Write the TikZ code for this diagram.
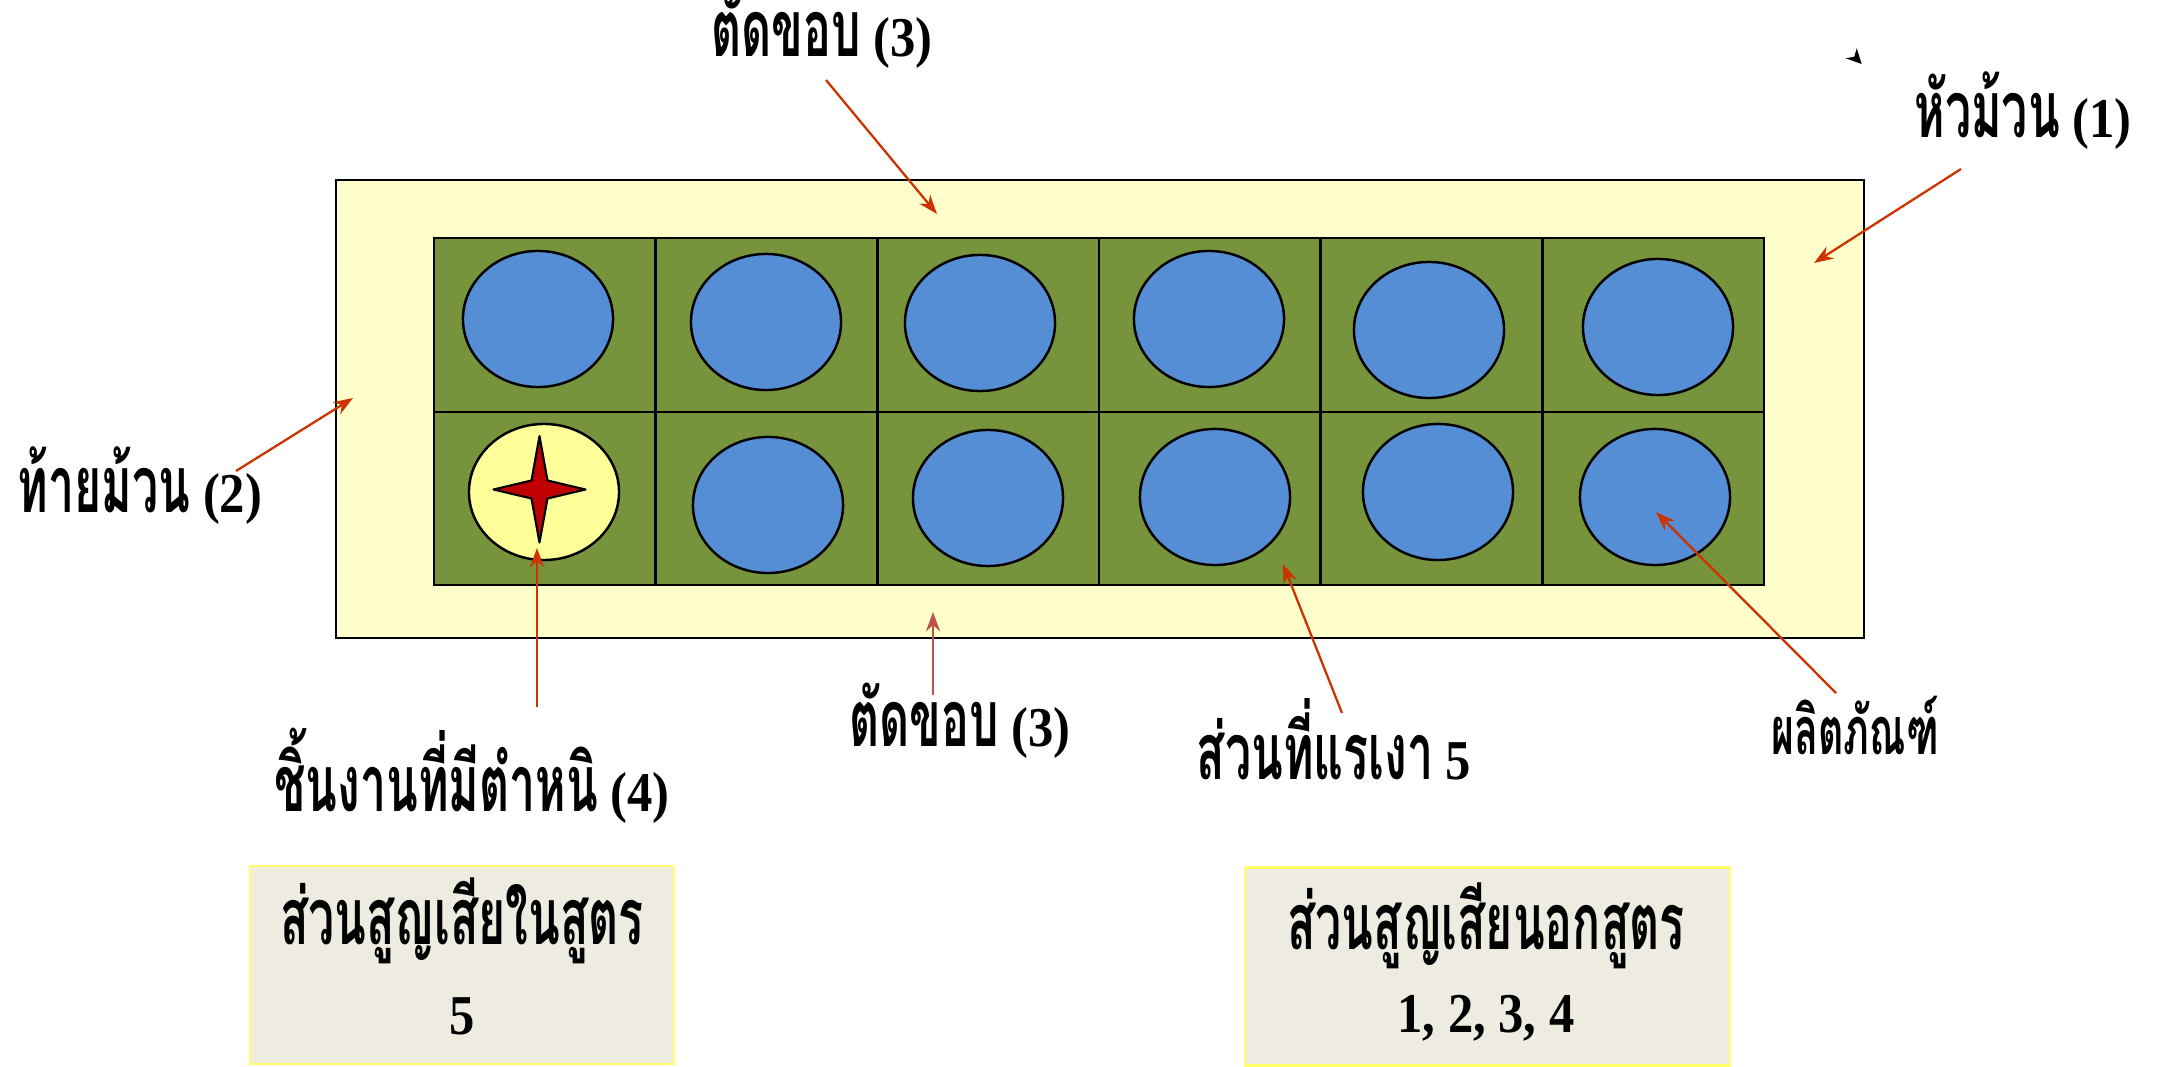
\documentclass[tikz,border=0pt]{standalone}
\usepackage{fontspec}
\setmainfont{Liberation Serif}[FakeStretch=0.9]
\newfontfamily\thai[Script=Thai,Scale=1.4,FakeStretch=0.59]{Loma}
\usetikzlibrary{arrows.meta,shapes.geometric}
\definecolor{rollyellow}{HTML}{FFFFCC}
\definecolor{gridgreen}{HTML}{77933C}
\definecolor{blueoval}{HTML}{558ED5}
\definecolor{defectyellow}{HTML}{FFFF99}
\definecolor{starred}{HTML}{C00000}
\definecolor{arrowred}{HTML}{CC3300}
\definecolor{arrowmuted}{HTML}{C0504D}
\definecolor{boxfill}{HTML}{EEECE1}
\definecolor{boxline}{HTML}{FFFF66}
\begin{document}
\begin{tikzpicture}[x=0.01cm,y=-0.01cm,
  lbl/.style={font=\fontsize{16}{19}\selectfont\bfseries, anchor=base, inner sep=0pt},
  smalllbl/.style={font=\fontsize{13.5}{16}\selectfont\bfseries, anchor=base, inner sep=0pt},
  oval/.style={ellipse, draw=black, line width=0.7pt, fill=blueoval,
    minimum width=1.5cm, minimum height=1.36cm, inner sep=0pt},
  defectoval/.style={oval, fill=defectyellow},
  callout/.style={draw=arrowred, line width=0.65pt, -{Stealth[length=5.5pt,width=4pt]}},
  mutedcallout/.style={callout, draw=arrowmuted},
  lossbox/.style={rectangle, draw=boxline, line width=0.7pt, fill=boxfill, inner sep=0pt,
    minimum height=1.98cm},
  frame/.style={draw=black, line width=0.75pt}]
\useasboundingbox (0,0) rectangle (2159,1067);

% roll and grid
\filldraw[frame, fill=rollyellow] (336,180) rectangle (1864,638);
\filldraw[frame, fill=gridgreen] (434,238) rectangle (1764,585);
\draw[frame] (434,412) -- (1764,412);
\foreach \cx in {655.7,877.3,1099,1320.7,1542.3}
  \draw[frame] (\cx,238) -- (\cx,585);

% products
\node[oval] (e11) at (538,319) {};
\node[oval] (e12) at (766,322) {};
\node[oval] (e13) at (980,323) {};
\node[oval] (e14) at (1209,319) {};
\node[oval] (e15) at (1429,330) {};
\node[oval] (e16) at (1658,327) {};
\node[defectoval] (e21) at (544,492) {};
\node[oval] (e22) at (768,505) {};
\node[oval] (e23) at (988,498) {};
\node[oval] (e24) at (1215,497) {};
\node[oval] (e25) at (1438,492) {};
\node[oval] (e26) at (1655,497) {};

% defect star
\filldraw[fill=starred, draw=black, line width=0.6pt, line join=round]
  (539.5,436) -- (547.5,480.5) -- (585.5,489.5) -- (547.5,498.5) -- (539.5,542.5)
  -- (531.5,498.5) -- (493.5,489.5) -- (531.5,480.5) -- cycle;

% stray arrowhead mark
\fill[black] (1861.7,64) -- (1845.7,58.3) -- (1854.3,56.7) -- (1856.7,48.3) -- cycle;

% labels
\node[lbl] (topcut) at (822,57) {{\thai ตัดขอบ} (3)};
\node[lbl] (head) at (2023,138) {{\thai หัวม้วน} (1)};
\node[lbl] (tail) at (140,513) {{\thai ท้ายม้วน} (2)};
\node[lbl] (defect) at (472,812) {{\thai ชิ้นงานที่มีตำหนิ} (4)};
\node[lbl] (botcut) at (960,747) {{\thai ตัดขอบ} (3)};
\node[lbl] (shaded) at (1334,780) {{\thai ส่วนที่แรเงา} 5};
\node[smalllbl] (product) at (1855,755) {\thai ผลิตภัณฑ์};

% callout arrows
\coordinate (topcutA) at (826,80);   \coordinate (topcutB) at (937,214);
\coordinate (tailA) at (236,471);    \coordinate (tailB) at (353,398);
\coordinate (headA) at (1961,169);   \coordinate (headB) at (1814,263);
\coordinate (defectA) at (537,707);  \coordinate (defectB) at (537,548);
\coordinate (botcutA) at (933,695);  \coordinate (botcutB) at (933,612);
\coordinate (shadedA) at (1342,713); \coordinate (shadedB) at (1283,564);
\coordinate (productA) at (1836,693);\coordinate (productB) at (1656,512);
\draw[callout] (topcutA) -- (topcutB);
\draw[callout] (tailA) -- (tailB);
\draw[callout] (headA) -- (headB);
\draw[callout] (defectA) -- (defectB);
\draw[mutedcallout] (botcutA) -- (botcutB);
\draw[callout] (shadedA) -- (shadedB);
\draw[callout] (productA) -- (productB);

% summary boxes
\node[lossbox, minimum width=4.24cm] (inbox) at (462,965) {};
\node[lossbox, minimum width=4.85cm] (outbox) at (1487.5,966.5) {};
\node[lbl] (inbox1) at (462,945) {\thai ส่วนสูญเสียในสูตร};
\node[lbl] (inbox2) at (462,1035) {5};
\node[lbl] (outbox1) at (1486,950) {\thai ส่วนสูญเสียนอกสูตร};
\node[lbl] (outbox2) at (1486,1033) {1, 2, 3, 4};
\end{tikzpicture}
\end{document}
